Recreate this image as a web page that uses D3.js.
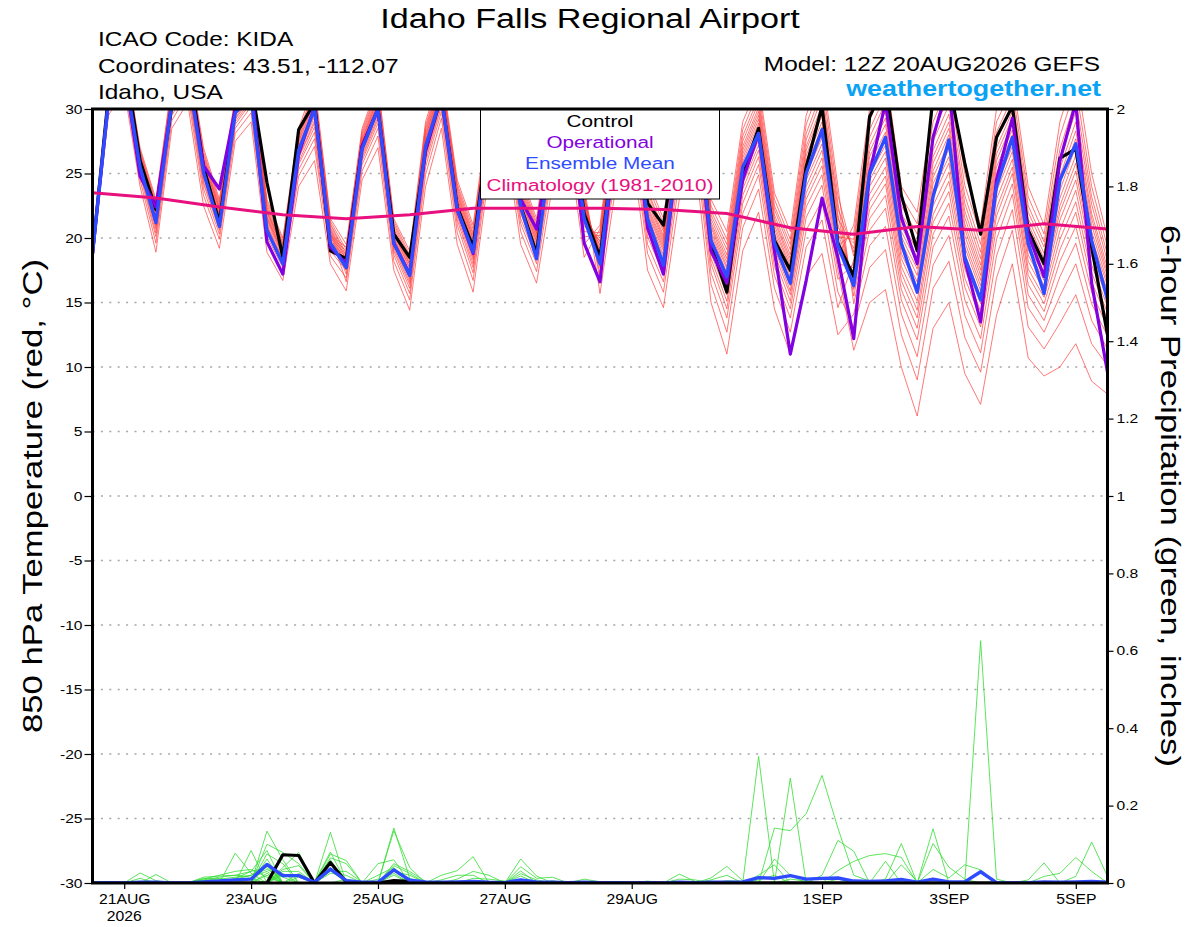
<!DOCTYPE html>
<html>
<head>
<meta charset="utf-8">
<script src="https://cdn.jsdelivr.net/npm/d3@7"></script>
<style>
body { margin: 0; background: #fff; }
svg { display: block; font-family: "Liberation Sans", Arial, Helvetica, sans-serif; }
</style>
</head>
<body>
<script>
// ---- Data ----
// GEFS run start and step (one value every 6 hours, 65 steps)
const runStart = Date.UTC(2026, 7, 20, 12);
const stepHours = 6;
const lastStep = 64;

const tempTicks = [-30, -25, -20, -15, -10, -5, 0, 5, 10, 15, 20, 25, 30];
const precipTicks = [0, 0.2, 0.4, 0.6, 0.8, 1, 1.2, 1.4, 1.6, 1.8, 2];
const tickDays = ["2026-08-21", "2026-08-23", "2026-08-25", "2026-08-27", "2026-08-29", "2026-09-01", "2026-09-03", "2026-09-05"];
const tickLabels = ["21AUG", "23AUG", "25AUG", "27AUG", "29AUG", "1SEP", "3SEP", "5SEP"];

// 850 hPa temperature (C)
const meanTemp = [18.8, 30.5, 33.0, 25.5, 21.2, 30.5, 33.0, 25.1, 20.9, 29.7,
  31.0, 20.6, 18.0, 26.8, 30.0, 19.6, 17.7, 26.9, 30.0, 19.6,
  17.1, 27.1, 31.0, 22.2, 18.9, 28.0, 31.0, 22.4, 18.4, 28.0,
  31.0, 21.5, 18.0, 28.0, 31.0, 21.5, 17.9, 28.0, 31.0, 19.8,
  17.0, 25.5, 28.1, 19.6, 16.5, 25.0, 28.4, 19.4, 16.3, 25.0,
  27.8, 19.6, 15.8, 23.2, 27.6, 18.5, 15.2, 24.0, 27.8, 19.6,
  15.7, 24.5, 27.3, 19.8, 15.2];
const controlTemp = [18.8, 31.0, 34.0, 26.0, 22.2, 30.2, 34.0, 25.5, 21.2, 30.0,
  32.0, 24.3, 18.5, 28.4, 30.5, 19.0, 18.4, 27.1, 30.0, 20.3,
  18.5, 26.8, 31.0, 22.4, 19.3, 28.5, 32.0, 22.5, 18.8, 28.5,
  32.0, 21.9, 18.5, 28.0, 31.5, 22.7, 21.0, 29.0, 32.0, 19.5,
  15.8, 25.0, 28.5, 19.8, 17.5, 25.5, 30.2, 19.6, 17.0, 29.4,
  32.0, 23.3, 19.0, 31.0, 32.0, 25.8, 20.3, 27.8, 30.2, 20.6,
  18.0, 26.2, 26.9, 19.3, 12.5];
const operTemp = [18.8, 30.5, 33.0, 24.8, 22.4, 30.5, 33.0, 25.6, 23.8, 30.0,
  32.0, 19.7, 17.2, 26.5, 30.2, 19.3, 18.0, 27.1, 30.0, 19.6,
  17.2, 26.8, 31.0, 22.2, 18.8, 28.0, 31.0, 23.0, 20.7, 28.0,
  31.0, 19.6, 16.6, 28.0, 31.0, 20.8, 17.2, 28.0, 31.0, 19.0,
  16.5, 24.5, 28.1, 19.0, 11.0, 16.7, 23.1, 18.5, 12.2, 25.0,
  30.5, 21.6, 18.0, 27.8, 32.0, 18.3, 13.5, 24.5, 29.3, 20.3,
  17.0, 26.0, 30.5, 16.5, 9.6];
// climatology, one value per day (every 4th step)
const climTemp = [23.5, 23.1, 22.4, 21.8, 21.5, 21.8, 22.3, 22.3, 22.3, 22.2, 21.9, 20.8, 20.3, 20.9, 20.6, 21.1, 20.7];

// ensemble members: one row per step, one column per member
const tempSteps = [
  [19.3, 19.2, 19.2, 19.2, 19.1, 19.1, 19.1, 19.0, 19.0, 19.0, 18.9, 18.9, 18.9, 18.8, 18.8, 18.7, 18.7, 18.6, 18.5, 18.3],
  [31.5, 31.4, 31.3, 31.2, 31.1, 31.1, 31.0, 30.9, 30.9, 30.8, 30.8, 30.7, 30.6, 30.5, 30.5, 30.4, 30.2, 30.1, 29.9, 29.5],
  [34.5, 34.3, 34.2, 34.1, 33.9, 33.8, 33.8, 33.7, 33.6, 33.5, 33.4, 33.3, 33.2, 33.1, 32.9, 32.8, 32.6, 32.4, 32.0, 31.5],
  [27.0, 26.8, 26.7, 26.6, 26.4, 26.3, 26.3, 26.2, 26.1, 26.0, 25.9, 25.8, 25.7, 25.6, 25.4, 25.3, 25.1, 24.9, 24.5, 24.0],
  [23.0, 22.8, 22.6, 22.4, 22.2, 22.1, 22.0, 21.9, 21.7, 21.6, 21.5, 21.4, 21.2, 21.0, 20.9, 20.7, 20.4, 20.1, 19.6, 18.9],
  [32.0, 31.8, 31.6, 31.5, 31.3, 31.2, 31.1, 31.0, 30.9, 30.8, 30.7, 30.6, 30.5, 30.3, 30.2, 30.0, 29.8, 29.5, 29.1, 28.5],
  [34.5, 34.3, 34.1, 33.9, 33.7, 33.6, 33.5, 33.4, 33.3, 33.1, 33.0, 32.9, 32.7, 32.6, 32.4, 32.2, 32.0, 31.7, 31.2, 30.5],
  [27.0, 26.7, 26.5, 26.3, 26.2, 26.0, 25.9, 25.7, 25.6, 25.5, 25.3, 25.2, 25.0, 24.8, 24.7, 24.4, 24.2, 23.8, 23.3, 22.5],
  [23.0, 22.8, 22.6, 22.4, 22.3, 22.2, 22.1, 21.9, 21.8, 21.7, 21.6, 21.5, 21.3, 21.2, 21.0, 20.8, 20.6, 20.3, 19.9, 19.2],
  [31.0, 30.8, 30.6, 30.5, 30.3, 30.2, 30.1, 30.0, 29.9, 29.8, 29.7, 29.6, 29.5, 29.3, 29.2, 29.0, 28.8, 28.5, 28.1, 27.5],
  [33.0, 32.8, 32.6, 32.4, 32.2, 32.1, 32.0, 31.9, 31.8, 31.6, 31.5, 31.4, 31.2, 31.1, 30.9, 30.7, 30.5, 30.2, 29.7, 29.0],
  [23.0, 22.8, 22.6, 22.4, 22.2, 22.1, 22.0, 21.9, 21.7, 21.6, 21.5, 21.4, 21.2, 21.0, 20.9, 20.7, 20.4, 20.1, 19.6, 18.9],
  [20.0, 19.8, 19.6, 19.5, 19.4, 19.3, 19.2, 19.1, 19.0, 18.9, 18.8, 18.7, 18.6, 18.4, 18.3, 18.1, 17.9, 17.7, 17.3, 16.7],
  [28.5, 28.2, 28.0, 27.8, 27.7, 27.5, 27.4, 27.2, 27.1, 27.0, 26.8, 26.7, 26.5, 26.3, 26.2, 25.9, 25.7, 25.3, 24.8, 24.0],
  [32.0, 31.6, 31.3, 31.1, 30.9, 30.7, 30.5, 30.3, 30.1, 30.0, 29.8, 29.6, 29.4, 29.1, 28.9, 28.6, 28.2, 27.7, 27.1, 26.0],
  [21.5, 21.3, 21.1, 21.0, 20.8, 20.7, 20.6, 20.5, 20.4, 20.3, 20.2, 20.1, 20.0, 19.8, 19.7, 19.5, 19.3, 19.0, 18.6, 18.0],
  [19.5, 19.1, 18.8, 18.6, 18.4, 18.2, 17.9, 17.6, 17.2, 16.6, 19.3, 19.0, 18.7, 18.5, 18.3, 18.1, 17.8, 17.5, 16.9, 15.9],
  [28.5, 28.1, 27.7, 27.5, 27.3, 27.0, 26.7, 26.4, 26.0, 25.2, 28.3, 27.9, 27.6, 27.4, 27.1, 26.9, 26.6, 26.2, 25.7, 24.5],
  [32.0, 31.5, 31.1, 30.8, 30.5, 30.2, 29.8, 29.4, 28.9, 27.9, 31.7, 31.3, 30.9, 30.6, 30.3, 30.0, 29.6, 29.2, 28.5, 27.0],
  [21.5, 21.1, 20.7, 20.5, 20.3, 20.0, 19.7, 19.4, 19.0, 18.2, 21.3, 20.9, 20.6, 20.4, 20.1, 19.9, 19.6, 19.2, 18.7, 17.5],
  [19.0, 18.5, 18.1, 17.9, 17.6, 17.3, 17.0, 16.6, 16.1, 15.2, 18.7, 18.3, 18.0, 17.7, 17.4, 17.2, 16.8, 16.4, 15.7, 14.4],
  [29.0, 28.5, 28.1, 27.8, 27.5, 27.2, 26.8, 26.4, 25.9, 24.9, 28.7, 28.3, 27.9, 27.6, 27.3, 27.0, 26.6, 26.2, 25.5, 24.0],
  [33.0, 32.5, 32.2, 31.9, 31.6, 31.3, 31.0, 30.7, 30.2, 29.3, 32.7, 32.3, 32.0, 31.7, 31.5, 31.2, 30.8, 30.4, 29.8, 28.5],
  [24.5, 24.0, 23.6, 23.3, 23.0, 22.7, 22.3, 21.9, 21.4, 20.4, 24.2, 23.8, 23.4, 23.1, 22.8, 22.5, 22.1, 21.7, 21.0, 19.5],
  [21.0, 20.4, 20.0, 19.7, 19.4, 19.1, 18.7, 18.3, 17.7, 16.7, 20.7, 20.2, 19.9, 19.5, 19.2, 18.9, 18.5, 18.0, 17.3, 15.8],
  [30.0, 29.5, 29.1, 28.8, 28.5, 28.2, 27.8, 27.4, 26.9, 25.9, 29.7, 29.3, 28.9, 28.6, 28.3, 28.0, 27.6, 27.2, 26.5, 25.0],
  [33.5, 32.9, 32.5, 32.1, 31.8, 31.5, 31.1, 30.6, 30.0, 29.0, 33.2, 32.7, 32.3, 32.0, 31.6, 31.3, 30.9, 30.4, 29.6, 28.0],
  [25.0, 24.4, 24.0, 23.6, 23.3, 23.0, 22.6, 22.1, 21.5, 20.5, 24.7, 24.2, 23.8, 23.5, 23.1, 22.8, 22.4, 21.9, 21.1, 19.5],
  [21.5, 21.0, 20.6, 20.3, 20.0, 19.7, 19.3, 18.9, 18.4, 17.4, 21.2, 20.8, 20.4, 20.1, 19.8, 19.5, 19.1, 18.7, 18.0, 16.5],
  [30.0, 29.3, 28.9, 28.5, 28.1, 27.8, 27.4, 26.9, 26.2, 25.1, 29.6, 29.1, 28.7, 28.3, 28.0, 27.6, 27.1, 26.6, 25.7, 24.0],
  [33.5, 32.8, 32.4, 32.0, 31.6, 31.3, 30.9, 30.4, 29.7, 28.6, 33.1, 32.6, 32.2, 31.8, 31.5, 31.1, 30.6, 30.1, 29.2, 27.5],
  [24.0, 23.4, 23.0, 22.6, 22.3, 22.0, 21.6, 21.1, 20.5, 19.5, 23.7, 23.2, 22.8, 22.5, 22.1, 21.8, 21.4, 20.9, 20.1, 18.5],
  [16.7, 17.7, 18.2, 18.7, 19.0, 19.4, 19.7, 20.0, 20.4, 21.0, 15.7, 17.2, 18.0, 18.5, 18.9, 19.2, 19.5, 19.8, 20.2, 20.7],
  [25.2, 26.4, 27.1, 27.6, 28.1, 28.5, 28.9, 29.3, 29.8, 30.5, 24.0, 25.9, 26.8, 27.4, 27.9, 28.3, 28.7, 29.1, 29.5, 30.1],
  [28.3, 29.6, 30.4, 30.9, 31.4, 31.8, 32.3, 32.7, 33.2, 34.0, 27.0, 29.0, 30.0, 30.6, 31.2, 31.6, 32.0, 32.5, 33.0, 33.6],
  [18.8, 20.1, 20.9, 21.4, 21.9, 22.3, 22.8, 23.2, 23.7, 24.5, 17.5, 19.5, 20.5, 21.1, 21.7, 22.1, 22.5, 23.0, 23.5, 24.1],
  [15.8, 17.2, 17.9, 18.5, 19.0, 19.4, 19.8, 20.2, 20.7, 21.5, 14.6, 16.6, 17.6, 18.2, 18.7, 19.2, 19.6, 20.0, 20.5, 21.1],
  [24.4, 26.0, 26.8, 27.5, 28.0, 28.5, 29.0, 29.5, 30.1, 31.0, 23.0, 25.3, 26.4, 27.2, 27.8, 28.3, 28.8, 29.2, 29.8, 30.5],
  [27.4, 29.0, 29.8, 30.5, 31.0, 31.5, 32.0, 32.5, 33.1, 34.0, 26.0, 28.3, 29.4, 30.2, 30.8, 31.3, 31.8, 32.2, 32.8, 33.5],
  [16.4, 18.0, 18.8, 19.5, 20.0, 20.5, 21.0, 21.5, 22.1, 23.0, 15.0, 17.3, 18.4, 19.2, 19.8, 20.3, 20.8, 21.2, 21.8, 22.5],
  [12.7, 14.5, 15.6, 16.3, 17.0, 17.6, 18.1, 18.7, 19.5, 20.5, 11.0, 13.8, 15.1, 15.9, 16.7, 17.3, 17.8, 18.4, 19.1, 19.9],
  [20.8, 22.7, 23.8, 24.6, 25.3, 25.9, 26.5, 27.1, 27.9, 29.0, 19.0, 21.9, 23.3, 24.2, 25.0, 25.6, 26.2, 26.8, 27.5, 28.4],
  [23.8, 25.7, 26.8, 27.6, 28.3, 28.9, 29.5, 30.1, 30.9, 32.0, 22.0, 24.9, 26.3, 27.2, 28.0, 28.6, 29.2, 29.8, 30.5, 31.4],
  [16.1, 17.8, 18.8, 19.5, 20.2, 20.7, 21.3, 21.8, 22.5, 23.5, 14.5, 17.1, 18.4, 19.2, 19.9, 20.4, 21.0, 21.5, 22.2, 23.0],
  [12.7, 14.5, 15.6, 16.3, 17.0, 17.6, 18.1, 18.7, 19.5, 20.5, 11.0, 13.8, 15.1, 15.9, 16.7, 17.3, 17.8, 18.4, 19.1, 19.9],
  [19.3, 21.6, 23.0, 24.0, 24.9, 25.6, 26.4, 27.1, 28.1, 29.5, 17.0, 20.6, 22.4, 23.5, 24.5, 25.3, 26.0, 26.8, 27.6, 28.8],
  [21.4, 24.1, 25.6, 26.8, 27.8, 28.6, 29.5, 30.3, 31.4, 33.0, 18.8, 22.9, 24.9, 26.2, 27.3, 28.2, 29.0, 29.9, 30.9, 32.2],
  [14.6, 16.8, 18.0, 18.9, 19.8, 20.4, 21.1, 21.8, 22.7, 24.0, 12.5, 15.8, 17.5, 18.5, 19.4, 20.1, 20.8, 21.5, 22.3, 23.3],
  [18.3, 18.0, 17.7, 17.4, 17.1, 16.7, 16.3, 16.0, 15.5, 14.9, 14.1, 13.1, 11.3, 21.0, 20.4, 19.9, 19.6, 19.2, 18.9, 18.6],
  [25.8, 25.4, 24.9, 24.5, 24.0, 23.4, 22.8, 22.2, 21.5, 20.6, 19.4, 17.7, 15.0, 30.0, 29.1, 28.4, 27.8, 27.2, 26.7, 26.3],
  [28.2, 27.7, 27.2, 26.7, 26.2, 25.5, 24.8, 24.2, 23.3, 22.3, 20.9, 19.1, 16.0, 33.0, 32.0, 31.1, 30.5, 29.8, 29.3, 28.8],
  [20.1, 19.7, 19.2, 18.8, 18.4, 17.8, 17.3, 16.7, 16.0, 15.2, 14.1, 12.5, 10.0, 24.0, 23.2, 22.5, 21.9, 21.3, 20.9, 20.5],
  [17.6, 17.1, 16.6, 16.2, 15.7, 15.1, 14.4, 13.8, 13.0, 12.1, 10.8, 9.0, 6.2, 22.0, 21.1, 20.3, 19.6, 19.0, 18.5, 18.1],
  [25.2, 24.7, 24.2, 23.7, 23.2, 22.5, 21.8, 21.2, 20.3, 19.3, 17.9, 16.1, 13.0, 30.0, 29.0, 28.1, 27.5, 26.8, 26.3, 25.8],
  [28.0, 27.4, 26.9, 26.3, 25.8, 25.1, 24.4, 23.6, 22.7, 21.7, 20.2, 18.2, 15.0, 33.0, 31.9, 31.0, 30.3, 29.6, 29.0, 28.5],
  [20.7, 20.2, 19.7, 19.3, 18.8, 18.2, 17.6, 16.9, 16.2, 15.2, 14.0, 12.3, 9.5, 25.0, 24.1, 23.3, 22.7, 22.1, 21.6, 21.1],
  [17.1, 16.7, 16.3, 15.9, 15.4, 14.9, 14.3, 13.8, 13.1, 12.2, 11.1, 9.6, 7.1, 21.0, 20.2, 19.5, 18.9, 18.4, 17.9, 17.5],
  [25.5, 25.0, 24.6, 24.1, 23.6, 23.0, 22.3, 21.7, 20.9, 19.9, 18.6, 16.9, 14.0, 30.0, 29.0, 28.2, 27.6, 27.0, 26.5, 26.0],
  [28.4, 28.0, 27.6, 27.1, 26.7, 26.1, 25.5, 25.0, 24.2, 23.4, 22.2, 20.6, 18.0, 32.5, 31.6, 30.9, 30.3, 29.8, 29.3, 28.9],
  [20.3, 19.9, 19.5, 19.1, 18.7, 18.2, 17.6, 17.1, 16.4, 15.6, 14.6, 13.1, 10.7, 24.0, 23.2, 22.5, 22.0, 21.5, 21.1, 20.7],
  [17.7, 17.4, 17.0, 16.7, 16.3, 15.9, 15.4, 14.9, 14.3, 13.6, 12.7, 11.4, 9.3, 21.0, 20.3, 19.7, 19.3, 18.8, 18.4, 18.1],
  [23.7, 23.1, 22.5, 22.0, 21.4, 20.6, 19.9, 19.1, 18.2, 17.0, 15.5, 13.4, 10.0, 29.0, 27.9, 26.9, 26.2, 25.4, 24.8, 24.3],
  [27.1, 26.4, 25.8, 25.2, 24.5, 23.7, 22.8, 22.0, 20.9, 19.6, 18.0, 15.6, 11.8, 33.0, 31.7, 30.7, 29.8, 29.0, 28.3, 27.7],
  [20.5, 20.0, 19.5, 19.0, 18.6, 17.9, 17.3, 16.6, 15.8, 14.9, 13.6, 11.8, 8.9, 25.0, 24.0, 23.2, 22.6, 21.9, 21.5, 21.0],
  [16.6, 16.3, 15.9, 15.5, 15.2, 14.7, 14.2, 13.7, 13.1, 12.4, 11.4, 10.1, 7.9, 20.0, 19.3, 18.7, 18.2, 17.7, 17.3, 17.0]
];

// 6-hour precipitation (inches)
const meanPrecip = [0, .001, 0, .002, .002, 0, 0, .003, .005, .008,
  .01, .048, .019, .019, .002, .036, .006, .002, .002, .034,
  .007, .003, .002, .003, .004, .002, .001, .008, .003, .002,
  .001, .002, .001, .001, 0, .001, 0, .002, .001, .002,
  .002, .003, .014, .012, .019, .01, .012, .013, .005, .004,
  .005, .009, .002, .01, .003, .003, .029, .001, 0, .001,
  .003, .002, .003, .004, .002];
const controlPrecip = [0, 0, 0, 0, 0, 0, 0, 0, 0, 0,
  0, 0, .073, .071, 0, .053, .002, 0, 0, .006,
  .004, 0, 0, 0, 0, 0, 0, 0, 0, 0,
  0, 0, 0, 0, 0, 0, 0, 0, 0, 0,
  0, 0, 0, 0, 0, 0, 0, 0, 0, 0,
  0, 0, 0, 0, 0, 0, 0, 0, 0, 0,
  0, 0, 0, 0, 0];
const precipSteps = [
  [0, 0, 0, 0, 0, 0, 0, 0, 0, 0, 0, 0, 0, 0, 0, 0, 0, 0, 0, 0],
  [0, 0, 0, .002, 0, 0, 0, 0, .003, 0, 0, 0, 0, 0, 0, 0, 0, 0, 0, 0],
  [0, 0, 0, 0, 0, 0, 0, 0, 0, 0, 0, 0, 0, 0, 0, 0, 0, 0, 0, 0],
  [0, 0, .026, 0, 0, 0, 0, 0, 0, .012, 0, 0, 0, 0, .004, 0, 0, 0, 0, 0],
  [0, 0, .006, 0, 0, .022, 0, 0, 0, 0, 0, .004, 0, 0, 0, 0, 0, 0, 0, 0],
  [0, 0, 0, 0, 0, 0, 0, 0, 0, 0, 0, 0, 0, 0, 0, 0, 0, 0, 0, 0],
  [0, 0, 0, 0, 0, 0, 0, 0, 0, 0, 0, 0, 0, 0, 0, 0, 0, 0, 0, 0],
  [0, .01, 0, 0, .015, 0, .006, 0, 0, 0, .012, 0, 0, .008, 0, 0, .005, 0, 0, 0],
  [0, .02, 0, 0, .018, 0, .012, 0, 0, 0, .01, 0, 0, .015, 0, 0, .008, 0, .006, 0],
  [0, .03, 0, 0, .02, 0, 0, .077, 0, 0, .015, 0, .012, .02, 0, 0, .01, 0, 0, 0],
  [0, .035, 0, .084, .03, 0, 0, .025, 0, 0, .02, 0, .03, .015, 0, 0, .02, 0, .012, 0],
  [.134, .015, .1, 0, .084, .075, 0, 0, .062, 0, .05, 0, .04, .03, 0, .045, .035, .02, 0, .025],
  [.06, 0, .079, 0, 0, .05, .04, 0, 0, .03, 0, .02, 0, 0, .035, 0, .015, 0, .025, 0],
  [0, 0, .05, 0, 0, 0, .079, 0, 0, .03, 0, .02, 0, 0, .045, 0, 0, .015, 0, .025],
  [0, 0, 0, .003, 0, 0, 0, 0, 0, 0, 0, 0, 0, 0, 0, 0, 0, 0, 0, 0],
  [0, .131, 0, .08, .075, 0, 0, .065, .05, 0, 0, .04, .03, 0, 0, .025, 0, 0, .06, .035],
  [0, 0, 0, 0, .058, 0, 0, .05, 0, .01, 0, 0, .03, 0, 0, .02, 0, 0, 0, 0],
  [0, 0, 0, 0, 0, 0, 0, 0, 0, 0, 0, 0, .002, 0, 0, 0, 0, 0, 0, 0],
  [0, 0, .05, 0, 0, 0, 0, 0, 0, 0, .02, 0, 0, 0, .01, 0, 0, 0, 0, 0],
  [.142, 0, .06, 0, 0, .135, 0, 0, .05, 0, .04, .02, 0, .03, 0, .025, 0, .045, 0, 0],
  [.012, 0, 0, 0, 0, .04, 0, 0, .03, 0, 0, 0, 0, .02, 0, 0, 0, .025, 0, 0],
  [0, 0, 0, 0, 0, 0, 0, 0, .004, 0, 0, 0, 0, 0, 0, 0, 0, 0, 0, 0],
  [0, 0, 0, 0, 0, 0, .02, 0, 0, 0, 0, .008, 0, 0, 0, 0, 0, 0, 0, 0],
  [0, 0, 0, .01, 0, 0, .032, 0, 0, 0, 0, .02, 0, 0, 0, 0, 0, 0, 0, 0],
  [0, 0, 0, .03, 0, 0, .068, 0, 0, 0, 0, .02, 0, 0, 0, 0, .012, 0, 0, 0],
  [0, 0, 0, .02, 0, 0, 0, 0, 0, 0, 0, 0, 0, 0, 0, 0, .01, 0, 0, 0],
  [0, 0, 0, 0, 0, 0, 0, 0, 0, 0, 0, 0, 0, 0, 0, 0, .005, 0, 0, 0],
  [0, .062, 0, 0, .01, 0, 0, 0, 0, .042, 0, 0, .031, 0, 0, .024, 0, 0, .018, 0],
  [0, .018, 0, 0, 0, 0, 0, 0, 0, .012, 0, 0, 0, 0, 0, .008, 0, 0, 0, 0],
  [0, 0, 0, 0, 0, 0, 0, 0, 0, .015, 0, 0, 0, 0, 0, 0, 0, 0, .006, 0],
  [0, 0, 0, 0, 0, 0, 0, 0, 0, 0, 0, 0, 0, 0, 0, 0, 0, 0, 0, 0],
  [0, 0, 0, 0, 0, 0, 0, 0, 0, 0, 0, 0, 0, 0, .01, 0, 0, 0, 0, 0],
  [0, 0, 0, 0, 0, 0, 0, 0, 0, 0, 0, 0, 0, 0, .003, 0, 0, 0, 0, 0],
  [0, 0, 0, 0, 0, 0, 0, .002, 0, 0, 0, 0, 0, 0, 0, 0, 0, 0, 0, 0],
  [0, 0, 0, 0, 0, 0, 0, 0, 0, 0, 0, 0, 0, 0, 0, 0, 0, 0, 0, 0],
  [0, 0, 0, 0, 0, 0, 0, 0, 0, 0, .005, 0, 0, 0, 0, 0, 0, 0, 0, 0],
  [0, 0, 0, 0, 0, 0, 0, 0, 0, 0, 0, 0, 0, 0, 0, 0, 0, 0, 0, 0],
  [0, 0, .01, 0, 0, 0, 0, 0, 0, 0, .023, 0, 0, 0, 0, 0, 0, 0, 0, 0],
  [0, 0, .008, 0, 0, 0, 0, 0, 0, 0, .004, 0, 0, 0, 0, 0, 0, 0, 0, 0],
  [0, 0, 0, 0, 0, .008, 0, 0, 0, 0, 0, 0, 0, .013, 0, 0, 0, 0, 0, 0],
  [0, 0, 0, 0, 0, .02, 0, 0, 0, 0, 0, 0, 0, .043, 0, 0, 0, .006, 0, 0],
  [0, 0, 0, 0, 0, 0, 0, 0, 0, 0, 0, 0, 0, .006, 0, 0, 0, .004, 0, 0],
  [.008, 0, 0, 0, 0, 0, 0, 0, .327, 0, 0, 0, 0, 0, 0, 0, .02, 0, 0, 0],
  [.02, 0, 0, .142, 0, 0, 0, 0, 0, 0, 0, 0, .062, 0, 0, 0, .047, 0, 0, 0],
  [0, 0, 0, .135, 0, 0, 0, 0, 0, 0, 0, .271, .02, 0, 0, 0, 0, 0, 0, .01],
  [0, 0, 0, .179, 0, 0, 0, 0, 0, 0, 0, 0, 0, 0, 0, 0, 0, 0, 0, .005],
  [0, 0, 0, .278, 0, 0, 0, .02, 0, 0, 0, 0, 0, 0, 0, 0, 0, 0, 0, 0],
  [0, 0, 0, .142, 0, 0, 0, .11, 0, 0, 0, 0, 0, 0, .032, 0, 0, 0, 0, .01],
  [0, 0, 0, .02, 0, 0, 0, .082, 0, 0, 0, 0, 0, 0, .056, 0, 0, 0, 0, 0],
  [0, 0, 0, .005, 0, 0, 0, 0, 0, 0, 0, 0, 0, 0, .071, 0, 0, 0, 0, 0],
  [0, .056, 0, 0, 0, 0, 0, 0, 0, .01, 0, 0, 0, 0, .076, 0, 0, 0, 0, 0],
  [0, 0, 0, 0, 0, .047, 0, 0, 0, .102, 0, 0, 0, 0, .066, 0, 0, 0, 0, 0],
  [0, 0, 0, 0, 0, .004, 0, 0, 0, 0, 0, 0, 0, 0, 0, 0, 0, 0, 0, 0],
  [0, 0, 0, 0, 0, 0, .102, 0, 0, 0, 0, 0, .14, 0, 0, 0, 0, 0, .035, 0],
  [0, 0, 0, 0, 0, 0, .041, 0, 0, 0, 0, 0, 0, 0, 0, 0, 0, 0, .013, 0],
  [0, 0, 0, 0, 0, 0, .01, 0, 0, 0, 0, 0, 0, 0, 0, 0, 0, 0, .047, 0],
  [0, 0, 0, 0, 0, 0, 0, 0, 0, 0, 0, 0, 0, 0, 0, .626, 0, 0, .034, 0],
  [0, 0, 0, 0, 0, 0, 0, 0, 0, 0, 0, 0, 0, 0, 0, .01, 0, 0, 0, 0],
  [0, 0, 0, 0, 0, 0, 0, 0, 0, 0, 0, 0, 0, 0, 0, 0, 0, 0, 0, 0],
  [0, 0, 0, 0, 0, 0, 0, 0, 0, 0, .008, 0, 0, 0, 0, 0, 0, 0, 0, 0],
  [0, 0, 0, 0, .017, 0, 0, 0, 0, 0, .052, 0, 0, 0, 0, 0, 0, 0, 0, 0],
  [0, 0, 0, 0, .025, 0, 0, 0, 0, 0, 0, 0, 0, 0, 0, 0, 0, 0, 0, 0],
  [0, 0, 0, 0, .066, 0, 0, 0, 0, 0, 0, 0, 0, 0, 0, 0, 0, .017, 0, 0],
  [0, 0, 0, 0, .03, 0, 0, 0, 0, 0, 0, 0, 0, 0, 0, 0, 0, .106, 0, 0],
  [0, 0, 0, 0, 0, 0, 0, 0, 0, 0, 0, 0, 0, 0, 0, 0, 0, .017, 0, 0]
];

// ---- Chart ----
const plot = { left: 92.5, right: 1107.5, top: 109, bottom: 883 };
const memberCount = 20;

const svg = d3.select("body").append("svg")
  .attr("width", 1200)
  .attr("height", 927);
svg.append("rect").attr("width", 1200).attr("height", 927).attr("fill", "#fff");

const stepTime = i => new Date(runStart + i * stepHours * 3600e3);
const x = d3.scaleUtc().domain([stepTime(0), stepTime(lastStep)]).range([plot.left, plot.right]);
const yT = d3.scaleLinear().domain([-30, 30]).range([plot.bottom, plot.top]);
const yP = d3.scaleLinear().domain([0, 2]).range([plot.bottom, plot.top]);

// stretched text, the original font is wider than Arial
function label(parent, px, py, str, opt) {
  let t = `translate(${px},${py})`;
  if (opt.rotate) t += ` rotate(${opt.rotate})`;
  t += ` scale(${opt.sx || 1.22},1)`;
  parent.append("text")
    .attr("transform", t)
    .attr("text-anchor", opt.anchor || "start")
    .attr("font-size", opt.size)
    .attr("font-weight", opt.weight || "normal")
    .attr("fill", opt.color || "#000")
    .text(str);
}

svg.append("defs").append("clipPath").attr("id", "plotClip")
  .append("rect")
  .attr("x", plot.left).attr("y", plot.top)
  .attr("width", plot.right - plot.left).attr("height", plot.bottom - plot.top);

// dotted grid lines
svg.append("g").selectAll("line")
  .data(tempTicks.filter(t => t > -30 && t < 30))
  .join("line")
  .attr("x1", plot.left).attr("x2", plot.right)
  .attr("y1", d => yT(d)).attr("y2", d => yT(d))
  .attr("stroke", "#a6a6a6")
  .attr("stroke-width", 1.3)
  .attr("stroke-dasharray", "2,6.4");

const lines = svg.append("g").attr("clip-path", "url(#plotClip)");
const lineT = d3.line().x((d, i) => x(stepTime(i))).y(d => yT(d));
const lineP = d3.line().x((d, i) => x(stepTime(i))).y(d => yP(d));
const lineClim = d3.line().x((d, i) => x(stepTime(i * 4))).y(d => yT(d));

// precipitation
const precipMembers = d3.range(memberCount).map(m => precipSteps.map(r => r[m] || 0));
lines.append("g").selectAll("path").data(precipMembers).join("path")
  .attr("d", lineP).attr("fill", "none")
  .attr("stroke", "#33dd33").attr("stroke-width", 0.8);
lines.append("path").attr("d", lineP(controlPrecip)).attr("fill", "none")
  .attr("stroke", "#000").attr("stroke-width", 3.2).attr("stroke-linejoin", "round");
lines.append("path").attr("d", lineP(meanPrecip)).attr("fill", "none")
  .attr("stroke", "#2f4bff").attr("stroke-width", 3.4).attr("stroke-linejoin", "round");

// temperature
const tempMembers = d3.range(memberCount).map(m => tempSteps.map(r => r[m]));
lines.append("g").selectAll("path").data(tempMembers).join("path")
  .attr("d", lineT).attr("fill", "none")
  .attr("stroke", "#ff4444").attr("stroke-opacity", 0.9).attr("stroke-width", 0.8);
lines.append("path").attr("d", lineT(controlTemp)).attr("fill", "none")
  .attr("stroke", "#000").attr("stroke-width", 3.2).attr("stroke-linejoin", "round");
lines.append("path").attr("d", lineT(operTemp)).attr("fill", "none")
  .attr("stroke", "#8300e0").attr("stroke-width", 3.2).attr("stroke-linejoin", "round");
lines.append("path").attr("d", lineT(meanTemp)).attr("fill", "none")
  .attr("stroke", "#2f4bff").attr("stroke-width", 3.4).attr("stroke-linejoin", "round");
lines.append("path").attr("d", lineClim(climTemp)).attr("fill", "none")
  .attr("stroke", "#e8107e").attr("stroke-width", 3);

// legend
const legend = svg.append("g");
legend.append("rect")
  .attr("x", 480.5).attr("y", 109).attr("width", 239).attr("height", 90)
  .attr("fill", "#fff").attr("stroke", "#000").attr("stroke-width", 1);
label(legend, 600, 127, "Control", { size: 17, anchor: "middle" });
label(legend, 600, 148, "Operational", { size: 17, anchor: "middle", color: "#8300e0" });
label(legend, 600, 169, "Ensemble Mean", { size: 17, anchor: "middle", color: "#2f4bff" });
label(legend, 600, 191, "Climatology (1981-2010)", { size: 17, anchor: "middle", color: "#e8107e" });

// frame
svg.append("rect")
  .attr("x", plot.left).attr("y", plot.top)
  .attr("width", plot.right - plot.left).attr("height", plot.bottom - plot.top)
  .attr("fill", "none").attr("stroke", "#000").attr("stroke-width", 3);

// axes
function styleAxis(g, size, sx) {
  g.select(".domain").remove();
  g.attr("font-family", null).attr("font-size", size);
  g.selectAll(".tick line").attr("stroke", "#000").attr("stroke-width", 1.2);
  g.selectAll(".tick text")
    .attr("fill", "#000")
    .attr("transform", function () {
      const tx = +d3.select(this).attr("x") || 0;
      return `translate(${tx},0) scale(${sx},1)`;
    })
    .attr("x", 0);
}

const leftAxis = svg.append("g").attr("transform", `translate(${plot.left},0)`)
  .call(d3.axisLeft(yT).tickValues(tempTicks).tickFormat(d => String(d))
    .tickSizeInner(8).tickSizeOuter(0).tickPadding(2));
styleAxis(leftAxis, 13, 1.2);

const rightAxis = svg.append("g").attr("transform", `translate(${plot.right},0)`)
  .call(d3.axisRight(yP).tickValues(precipTicks).tickFormat(d => String(d))
    .tickSizeInner(6).tickSizeOuter(0).tickPadding(3));
styleAxis(rightAxis, 13, 1.2);

const bottomAxis = svg.append("g").attr("transform", `translate(0,${plot.bottom})`)
  .call(d3.axisBottom(x).tickValues(tickDays.map(d => new Date(d + "T00:00:00Z")))
    .tickFormat((d, i) => tickLabels[i])
    .tickSizeInner(6).tickSizeOuter(0).tickPadding(4));
styleAxis(bottomAxis, 15, 1.05);
label(svg, x(new Date(tickDays[0] + "T00:00:00Z")), 921, "2026", { size: 15, anchor: "middle", sx: 1.05 });

// titles
label(svg, 590, 28, "Idaho Falls Regional Airport", { size: 28, anchor: "middle" });
label(svg, 98, 46, "ICAO Code: KIDA", { size: 20 });
label(svg, 98, 73, "Coordinates: 43.51, -112.07", { size: 20 });
label(svg, 98, 99, "Idaho, USA", { size: 20 });
label(svg, 1100, 71, "Model: 12Z 20AUG2026 GEFS", { size: 20, anchor: "end" });
label(svg, 1101, 96, "weathertogether.net", { size: 22, anchor: "end", weight: "bold", color: "#0aa2f5" });
label(svg, 42, 496, "850 hPa Temperature (red, \u00B0C)", { size: 28, anchor: "middle", rotate: -90, sx: 1.24 });
label(svg, 1161, 496, "6-hour Precipitation (green, inches)", { size: 28, anchor: "middle", rotate: 90, sx: 1.24 });
</script>
</body>
</html>
